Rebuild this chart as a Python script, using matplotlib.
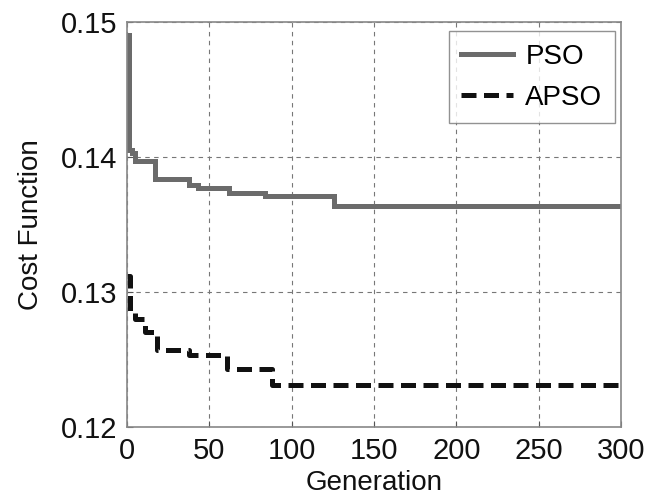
import matplotlib
matplotlib.use("Agg")
import matplotlib.pyplot as plt

plt.rcParams['font.family'] = ['Liberation Sans', 'DejaVu Sans']

pso_gen = [0, 1, 3, 5, 17, 38, 43, 62, 84, 126, 300]
pso_val = [0.1490, 0.1405, 0.1403, 0.1397, 0.1384, 0.1379, 0.1377, 0.1373, 0.1371, 0.1364, 0.1364]

apso_gen = [0, 2, 5, 11, 18, 38, 61, 88, 300]
apso_val = [0.1312, 0.1285, 0.1280, 0.1270, 0.1257, 0.1253, 0.1243, 0.1231, 0.1231]

xticks = [0, 50, 100, 150, 200, 250, 300]
yticks = [0.12, 0.13, 0.14, 0.15]

fig = plt.figure(figsize=(6.61, 4.99), dpi=100)
ax = fig.add_axes([0.192, 0.1443, 0.7475, 0.8117])

ax.plot(pso_gen, pso_val, drawstyle='steps-post', color='#6b6b6b', lw=3.6,
        label='PSO', solid_joinstyle='miter')
ax.plot(apso_gen, apso_val, drawstyle='steps-post', color='#111111', lw=3.6,
        dashes=(3.0, 1.5), label='APSO')

ax.set_xlim(0, 300)
ax.set_ylim(0.12, 0.15)
ax.set_xticks(xticks)
ax.set_yticks(yticks)
ax.set_yticklabels(['0.12', '0.13', '0.14', '0.15'])
ax.grid(True, color='#777777', linestyle=(0, (4, 4)), linewidth=0.8)
ax.tick_params(direction='in', length=4, width=0.8, colors='#555555',
               labelcolor='#111111', labelsize=21, pad=7)
for s in ax.spines.values():
    s.set_color('#888888')
    s.set_linewidth(1.2)

ax.set_xlabel('Generation', fontsize=20, color='#111111', labelpad=4)
ax.set_ylabel('Cost Function', fontsize=20, color='#111111', labelpad=12)

leg = ax.legend(loc='upper right', fontsize=20, frameon=True, fancybox=False,
                edgecolor='#777777', handlelength=1.85, handletextpad=0.45,
                borderpad=0.45, labelspacing=0.55, borderaxespad=0,
                bbox_to_anchor=(615 / 661, 1 - 31 / 499),
                bbox_transform=fig.transFigure)
leg.get_frame().set_linewidth(1.0)

fig.savefig('out.png', dpi=100)
